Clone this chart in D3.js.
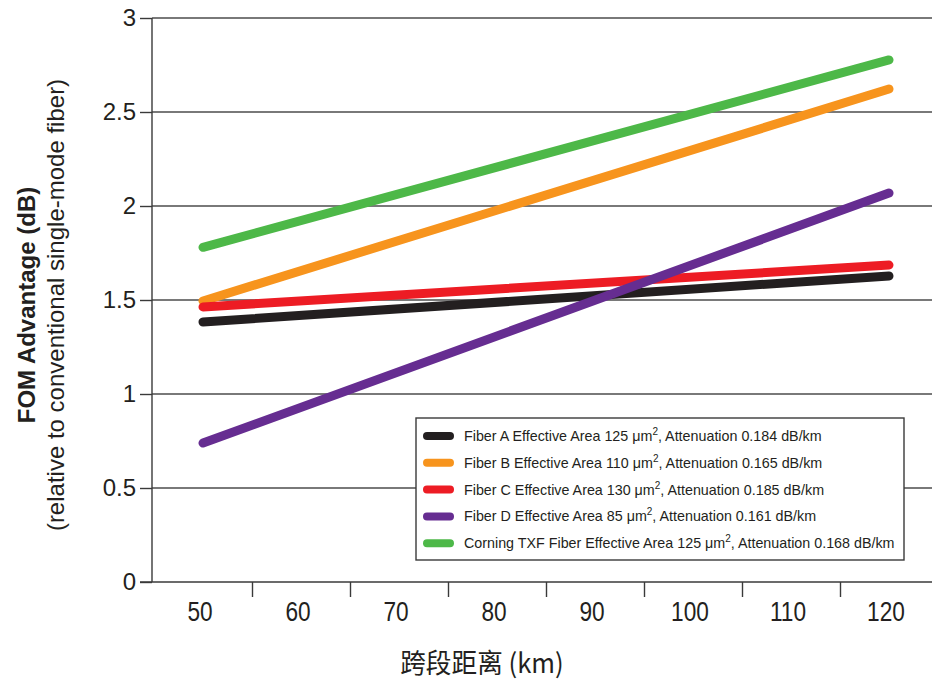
<!DOCTYPE html>
<html><head><meta charset="utf-8">
<script src="https://cdn.jsdelivr.net/npm/d3@7"></script>
<style>body{margin:0;background:#fff}svg{display:block}text{font-family:"Liberation Sans",Arial,sans-serif;fill:#231f20}</style>
</head><body><svg id="c" width="932" height="680"></svg>
<script>
const spanKm = [50, 120];
const fiberA = [1.383, 1.628];
const fiberB = [1.495, 2.622];
const fiberC = [1.463, 1.686];
const fiberD = [0.739, 2.069];
const fiberTXF = [1.78, 2.777];
const xTickLabels = [50, 60, 70, 80, 90, 100, 110, 120];
const xTickMarks = [55, 65, 75, 85, 95, 105, 115];
const yTicks = [0, 0.5, 1, 1.5, 2, 2.5, 3];
const seriesNames = ["Fiber A Effective Area 125 μm|2|, Attenuation 0.184 dB/km",
  "Fiber B Effective Area 110 μm|2|, Attenuation 0.165 dB/km",
  "Fiber C Effective Area 130 μm|2|, Attenuation 0.185 dB/km",
  "Fiber D Effective Area 85 μm|2|, Attenuation 0.161 dB/km",
  "Corning TXF Fiber Effective Area 125 μm|2|, Attenuation 0.168 dB/km"];
const colors = ["#231f20", "#f7941d", "#ed1c24", "#662d91", "#4db848"];
const seriesVals = [fiberA, fiberB, fiberC, fiberD, fiberTXF];

const svg = d3.select("#c");
const x = d3.scaleLinear().domain([50, 120]).range([203, 889]);
const y = d3.scaleLinear().domain([0, 3]).range([582, 18]);
const axisColor = "#3a3a3a";

// gridlines
svg.append("g").selectAll("line").data(yTicks.filter(d => d > 0)).join("line")
  .attr("x1", 152).attr("x2", 932).attr("y1", d => y(d)).attr("y2", d => y(d))
  .attr("stroke", "#4d4d4d").attr("stroke-width", 1.4);

// y axis
const yAxis = svg.append("g").attr("transform", "translate(152,0)")
  .call(d3.axisLeft(y).tickValues(yTicks).tickSize(12).tickPadding(4).tickFormat(d => d));
yAxis.select(".domain").attr("stroke", axisColor).attr("stroke-width", 1.4).attr("d", `M0,${y(3)}V${y(0)}`);
yAxis.selectAll(".tick line").attr("stroke", axisColor).attr("stroke-width", 1.4);
yAxis.selectAll(".tick text").attr("font-size", 24).attr("fill", "#231f20")
  .attr("font-family", "'Liberation Sans',Arial,sans-serif");

// x axis
svg.append("line").attr("x1", 140).attr("x2", 932).attr("y1", y(0)).attr("y2", y(0))
  .attr("stroke", axisColor).attr("stroke-width", 1.4);
const xAxis = svg.append("g").attr("transform", `translate(0,${y(0)})`)
  .call(d3.axisBottom(x).tickValues(xTickMarks).tickSize(15).tickFormat(""));
xAxis.select(".domain").remove();
xAxis.selectAll(".tick line").attr("stroke", axisColor).attr("stroke-width", 1.4);
svg.append("g").selectAll("text").data(xTickLabels).join("text")
  .attr("transform", d => `translate(${x(d) - 3},621) scale(0.84,1)`)
  .attr("text-anchor", "middle").attr("font-size", 27)
  .text(d => d);

// titles
svg.append("text").attr("transform", "translate(482,673) scale(0.95,1)").attr("text-anchor", "middle")
  .attr("font-size", 27).style("font-family", "'Noto Sans CJK SC','Liberation Sans',sans-serif")
  .text("跨段距离 (km)");
svg.append("text").attr("transform", "translate(35,305) rotate(-90)").attr("text-anchor", "middle")
  .attr("font-size", 24).attr("font-weight", "bold").text("FOM Advantage (dB)");
svg.append("text").attr("transform", "translate(64,305) rotate(-90)").attr("text-anchor", "middle")
  .attr("font-size", 24).text("(relative to conventional single-mode fiber)");

// lines
const line = d3.line().x((d, i) => x(spanKm[i])).y(d => y(d));
svg.append("g").selectAll("path").data(seriesVals).join("path")
  .attr("d", d => line(d)).attr("fill", "none")
  .attr("stroke", (d, i) => colors[i]).attr("stroke-width", 9).attr("stroke-linecap", "round");

// legend
const lg = svg.append("g");
lg.append("rect").attr("x", 416).attr("y", 418).attr("width", 488).attr("height", 142)
  .attr("fill", "#fff").attr("stroke", "#3a3a3a").attr("stroke-width", 1.4);
seriesNames.forEach((name, i) => {
  const yy = 436 + i * 26.8;
  lg.append("line").attr("x1", 427).attr("x2", 450).attr("y1", yy).attr("y2", yy)
    .attr("stroke", colors[i]).attr("stroke-width", 8).attr("stroke-linecap", "round");
  const parts = name.split("|");
  const t = lg.append("text").attr("x", 464).attr("y", yy + 5).attr("font-size", 14.3);
  t.append("tspan").text(parts[0]);
  t.append("tspan").attr("dy", -6).attr("font-size", 10).text(parts[1]);
  t.append("tspan").attr("dy", 6).text(parts[2]);
});
</script></body></html>
